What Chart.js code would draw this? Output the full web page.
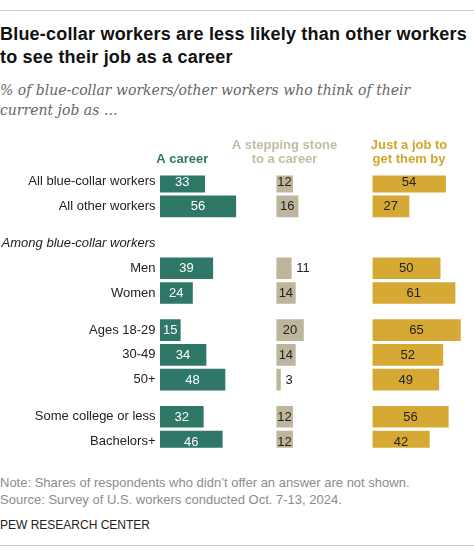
<!DOCTYPE html>
<html>
<head>
<meta charset="utf-8">
<script src="https://cdn.jsdelivr.net/npm/chart.js@4/dist/chart.umd.min.js"></script>
<style>
  html, body { margin: 0; padding: 0; background: #fff; }
  body { width: 474px; height: 555px; position: relative; overflow: hidden; font-family: "Liberation Sans", Arial, sans-serif; }
  .rule { position: absolute; left: 0; width: 474px; height: 1px; background: #c8c8c8; }
  #title { position: absolute; left: 0; top: 23px; width: 480px; font-weight: bold; font-size: 18px; letter-spacing: 0.2px; line-height: 23px; color: #111; white-space: nowrap; }
  #subtitle { position: absolute; left: 0; top: 80px; width: 474px; font-family: "DejaVu Serif", Georgia, serif; font-style: italic; font-size: 14px; line-height: 20px; color: #666; white-space: nowrap; }
  #chartBox { position: absolute; left: 0; top: 130px; width: 474px; height: 330px; }
  #note { position: absolute; left: 0; top: 474px; font-size: 13px; line-height: 17px; color: #8c8c8c; white-space: nowrap; }
  #credit { position: absolute; left: 0; top: 517px; font-size: 12px; line-height: 16px; color: #222; }
</style>
</head>
<body>
<div class="rule" style="top:10px"></div>
<div id="title">Blue-collar workers are less likely than other workers<br>to see their job as a career</div>
<div id="subtitle">% of blue-collar workers/other workers who think of their<br>current job as …</div>
<div id="chartBox"><canvas id="jobChart"></canvas></div>
<div id="note">Note: Shares of respondents who didn’t offer an answer are not shown.<br>Source: Survey of U.S. workers conducted Oct. 7-13, 2024.</div>
<div id="credit">PEW RESEARCH CENTER</div>
<div class="rule" style="top:545px"></div>

<script>
/* ---- Data ---- */
const groups = [
  ["All blue-collar workers", "All other workers"],
  ["Among blue-collar workers", "Men", "Women"],
  ["Ages 18-29", "30-49", "50+"],
  ["Some college or less", "Bachelors+"]
];
const sectionHeader = "Among blue-collar workers";

const rows    = ["All blue-collar workers", "All other workers", "Men", "Women",
                 "Ages 18-29", "30-49", "50+", "Some college or less", "Bachelors+"];
const career  = [33, 56, 39, 24, 15, 34, 48, 32, 46];
const stone   = [12, 16, 11, 14, 20, 14, 3, 12, 12];
const justJob = [54, 27, 50, 61, 65, 52, 49, 56, 42];

const seriesNames = [["A career"], ["A stepping stone", "to a career"], ["Just a job to", "get them by"]];

/* ---- Colors ---- */
const palette = {
  career:   "#2f7868",
  stone:    "#bdb69c",
  justJob:  "#d6a935",
  stoneHdr: "#c3bca4",
  jobHdr:   "#d3a52c",
  text:     "#222"
};

/* ---- Build padded category slots: one blank between rows, two between groups ---- */
function buildSlots() {
  const slots = [];
  groups.forEach((g, gi) => {
    if (gi > 0) slots.push("", "");
    g.forEach((label, li) => {
      if (li > 0) slots.push("");
      slots.push(label);
    });
  });
  return slots;
}
const slots = buildSlots();

function spread(values) {
  return slots.map(s => {
    const i = rows.indexOf(s);
    return i === -1 ? null : values[i];
  });
}

/* ---- Value labels + column headers ---- */
const labelPlugin = {
  id: "barLabels",
  afterDatasetsDraw(chart) {
    const c = chart.ctx;
    const hdrColors = [palette.career, palette.stoneHdr, palette.jobHdr];
    chart.data.datasets.forEach((ds, di) => {
      const meta = chart.getDatasetMeta(di);
      let first = null;
      meta.data.forEach((el, i) => {
        const v = ds.data[i];
        if (v === null) return;
        if (!first) first = el;
        c.save();
        c.font = "13px 'Liberation Sans', Arial, sans-serif";
        c.textBaseline = "middle";
        if (v >= 12) {
          c.textAlign = "center";
          c.fillStyle = di === 0 ? "#fff" : palette.text;
          c.fillText(v, (el.x + el.base) / 2, el.y + 0.5);
        } else {
          c.textAlign = "left";
          c.fillStyle = palette.text;
          c.fillText(v, el.x + 5, el.y + 0.5);
        }
        c.restore();
      });

      // header centred over the first bar of the column
      const lines = seriesNames[di];
      const cx = (first.x + first.base) / 2;
      c.save();
      c.font = "bold 13px 'Liberation Sans', Arial, sans-serif";
      c.textAlign = "center";
      c.textBaseline = "middle";
      c.fillStyle = hdrColors[di];
      lines.forEach((t, li) => {
        c.fillText(t, cx, chart.chartArea.top - 16 - (lines.length - 1 - li) * 13.5);
      });
      c.restore();
    });
  }
};

/* ---- Chart ---- */
const columnAxis = (max) => ({
  type: "linear",
  position: "bottom",
  stack: "cols",
  stackWeight: max,
  min: 0,
  max: max,
  display: false
});

new Chart(document.getElementById("jobChart"), {
  type: "bar",
  data: {
    labels: slots,
    datasets: [
      { label: "A career", data: spread(career), backgroundColor: palette.career, xAxisID: "c1" },
      { label: "A stepping stone to a career", data: spread(stone), backgroundColor: palette.stone, xAxisID: "c2" },
      { label: "Just a job to get them by", data: spread(justJob), backgroundColor: palette.justJob, xAxisID: "c3" }
    ]
  },
  options: {
    indexAxis: "y",
    responsive: true,
    maintainAspectRatio: false,
    animation: false,
    layout: { padding: { top: 45.4, bottom: 7.6, left: 0, right: 0 } },
    datasets: { bar: { barThickness: 21, grouped: false } },
    plugins: { legend: { display: false }, tooltip: { enabled: false } },
    scales: {
      y: {
        type: "category",
        border: { display: false },
        grid: { display: false, drawTicks: false },
        ticks: {
          autoSkip: false,
          padding: 4.5,
          color: palette.text,
          font: (ctx) => ctx.tick && ctx.tick.label === sectionHeader
            ? { family: "'Liberation Sans', Arial, sans-serif", size: 13, style: "italic" }
            : { family: "'Liberation Sans', Arial, sans-serif", size: 13 }
        },
        afterFit: (scale) => { scale.width = 160; }
      },
      c1: columnAxis(86),
      c2: columnAxis(71),
      c3: columnAxis(75)
    }
  },
  plugins: [labelPlugin]
});
</script>
</body>
</html>
